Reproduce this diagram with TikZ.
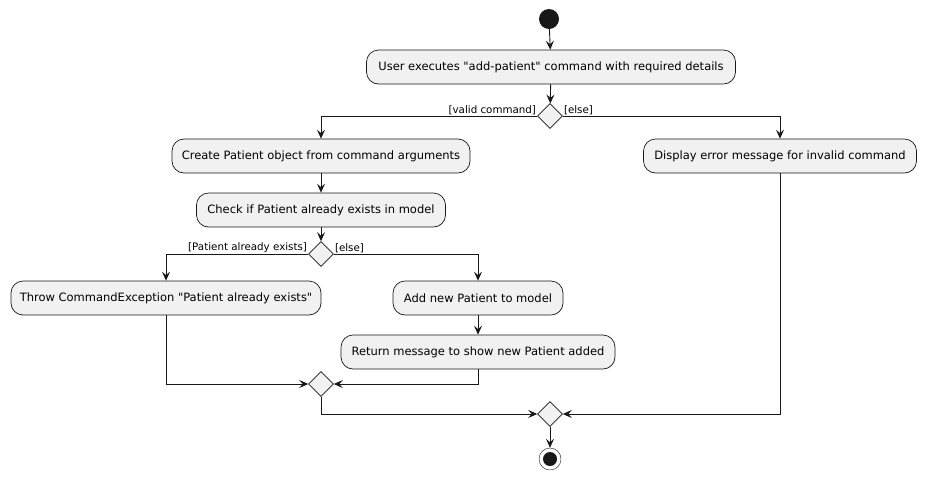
\documentclass[tikz,border=0pt]{standalone}
\usepackage{fontspec}
\setmainfont{DejaVu Sans}[Ligatures=TeXOff]
\usepackage{xcolor}
\usepackage{tikz}
\usetikzlibrary{arrows.meta}
\usetikzlibrary{shapes.geometric}
\definecolor{boxfill}{HTML}{F1F1F1}
\definecolor{ink}{HTML}{181818}

\begin{document}
\begin{tikzpicture}[x=1pt, y=-1pt,
		act/.style={draw=ink, fill=boxfill, line width=0.7pt, rounded corners=12pt, minimum height=34pt, inner xsep=0pt, font=\fontsize{11.5}{13}\selectfont},
		dec/.style={draw=ink, fill=boxfill, line width=0.6pt, diamond, minimum size=25pt, inner sep=0pt},
		guard/.style={inner sep=1pt, font=\fontsize{10.3}{12}\selectfont},
		flow/.style={draw=ink, line width=0.9pt, -{Stealth[length=9pt, width=8pt, inset=3.5pt]}}]
			\useasboundingbox (0,0) rectangle (926,480);
			\node[circle, fill=ink, minimum size=20pt, inner sep=0pt] (start) at (549,19) {};
			\foreach \name/\x/\y/\w/\txt in {user/551/67/369/{User executes "add-patient" command with required details}, create/321/156/298/{Create Patient object from command arguments}, error/780/156/273/{Display error message for invalid command}, check/321/210/249/{Check if Patient already exists in model}, throw/166/298/310/{Throw CommandException "Patient already exists"}, addnew/478/298/170/{Add new Patient to model}, reply/478/352/274/{Return message to show new Patient added}}
			{
				\node[act, minimum width=\w pt] (\name) at (\x,\y) {\txt};
			}
			\foreach \name/\x/\y in {valid/550/116, exists/321/254, merge/321/384, final/550/414}
			{
				\node[dec] (\name) at (\x,\y) {};
			}
			\node[circle, draw=ink, fill=white, minimum size=22pt, inner sep=0pt, path picture={\fill[ink] (path picture bounding box.center) circle (7pt);}] (stop) at (550,459) {};
			\node[guard, anchor=south east] (validlbl) at (valid.west) {[valid command]};
			\node[guard, anchor=south west] (elselbl1) at (valid.east) {[else]};
			\node[guard, anchor=south east] (existslbl) at (exists.west) {[Patient already exists]};
			\node[guard, anchor=south west] (elselbl2) at (exists.east) {[else]};
			\draw[flow] (start) -- (user);
			\draw[flow] (user) -- (valid);
			\draw[flow] (valid.west) -| (create);
			\draw[flow] (valid.east) -| (error);
			\draw[flow] (create) -- (check);
			\draw[flow] (check) -- (exists);
			\draw[flow] (exists.west) -| (throw);
			\draw[flow] (exists.east) -| (addnew);
			\draw[flow] (addnew) -- (reply);
			\draw[flow] (throw) |- (merge);
			\draw[flow] (reply) |- (merge);
			\draw[flow] (merge) |- (final);
			\draw[flow] (error) |- (final);
			\draw[flow] (final) -- (stop);
		\end{tikzpicture}
\end{document}
